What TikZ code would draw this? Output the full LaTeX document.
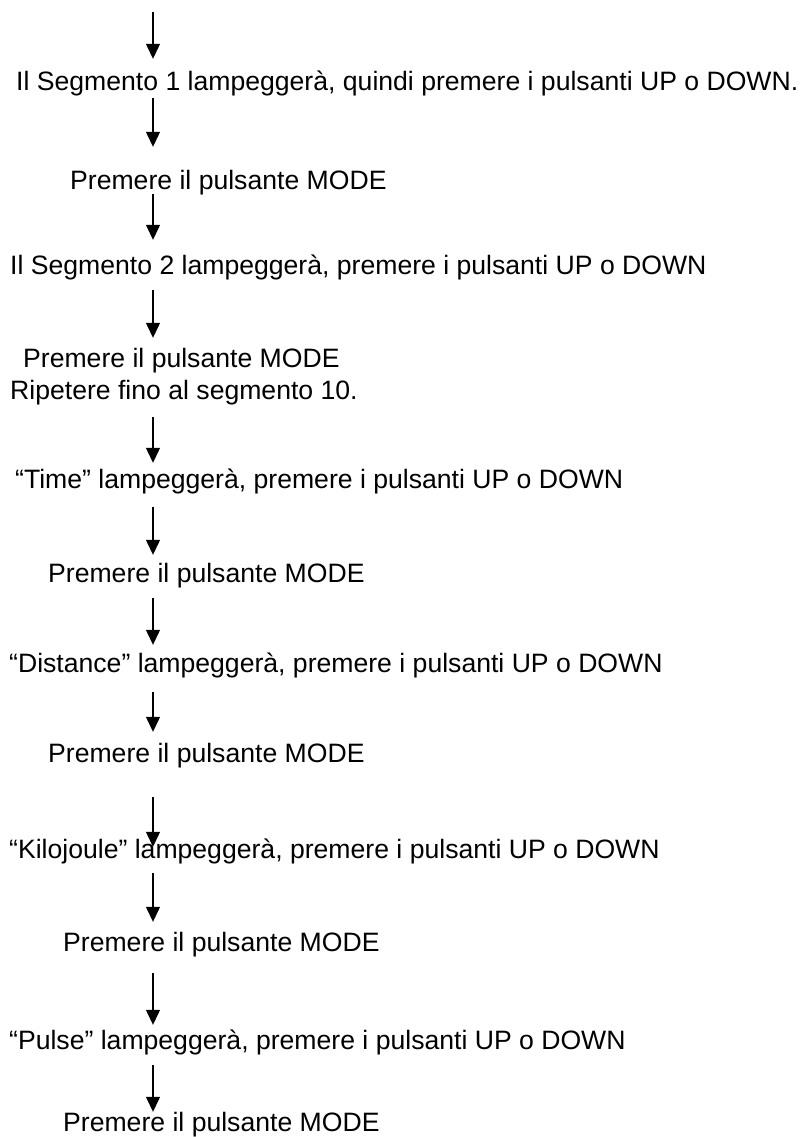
\documentclass[tikz,border=0pt]{standalone}
\usepackage{fontspec}
\setmainfont{Liberation Sans}
\usetikzlibrary{arrows.meta}
\tikzset{
  txt/.style={anchor=base west, inner sep=0pt, text height=19pt, text depth=5pt,
    font=\fontsize{26.6}{30}\selectfont},
  flow/.style={line width=1.2pt, -{Triangle[length=15pt,width=14pt]}}
}
\begin{document}
\begin{tikzpicture}[x=1pt,y=-1pt]
\useasboundingbox (0,0) rectangle (803,1137);
\coordinate (top) at (153,12);
\node[txt] (s1) at (16,91) {Il Segmento 1 lampeggerà, quindi premere i pulsanti UP o DOWN.};
\node[txt] (m1) at (70,189) {Premere il pulsante MODE};
\node[txt] (s2) at (10,274) {Il Segmento 2 lampeggerà, premere i pulsanti UP o DOWN};
\node[txt] (m2) at (23,367) {Premere il pulsante MODE};
\node[txt] (rep) at (10,399) {Ripetere fino al segmento 10.};
\node[txt] (tm) at (15,488) {“Time” lampeggerà, premere i pulsanti UP o DOWN};
\node[txt] (m3) at (48,582) {Premere il pulsante MODE};
\node[txt] (ds) at (9,672) {“Distance” lampeggerà, premere i pulsanti UP o DOWN};
\node[txt] (m4) at (48,762) {Premere il pulsante MODE};
\node[txt] (kj) at (9,858) {“Kilojoule” lampeggerà, premere i pulsanti UP o DOWN};
\node[txt] (m5) at (63,951) {Premere il pulsante MODE};
\node[txt] (pl) at (9,1049) {“Pulse” lampeggerà, premere i pulsanti UP o DOWN};
\node[txt] (m6) at (63,1131) {Premere il pulsante MODE};
% arrows down the column
\draw[flow, shorten >=13pt] (top) -- (s1.north -| top);
\foreach \a/\b/\s/\e in {s1/m1/2/23, m1/s2/0/15, s2/m2/11/10, rep/tm/13/6,
    tm/m3/14/8, m3/ds/11/8, ds/m4/15/11, m4/kj/30/-8, kj/m5/10/10,
    m5/pl/17/5, pl/m6/11/0}
  \draw[flow, shorten <=\s pt, shorten >=\e pt] (\a.south -| top) -- (\b.north -| top);
\end{tikzpicture}
\end{document}
